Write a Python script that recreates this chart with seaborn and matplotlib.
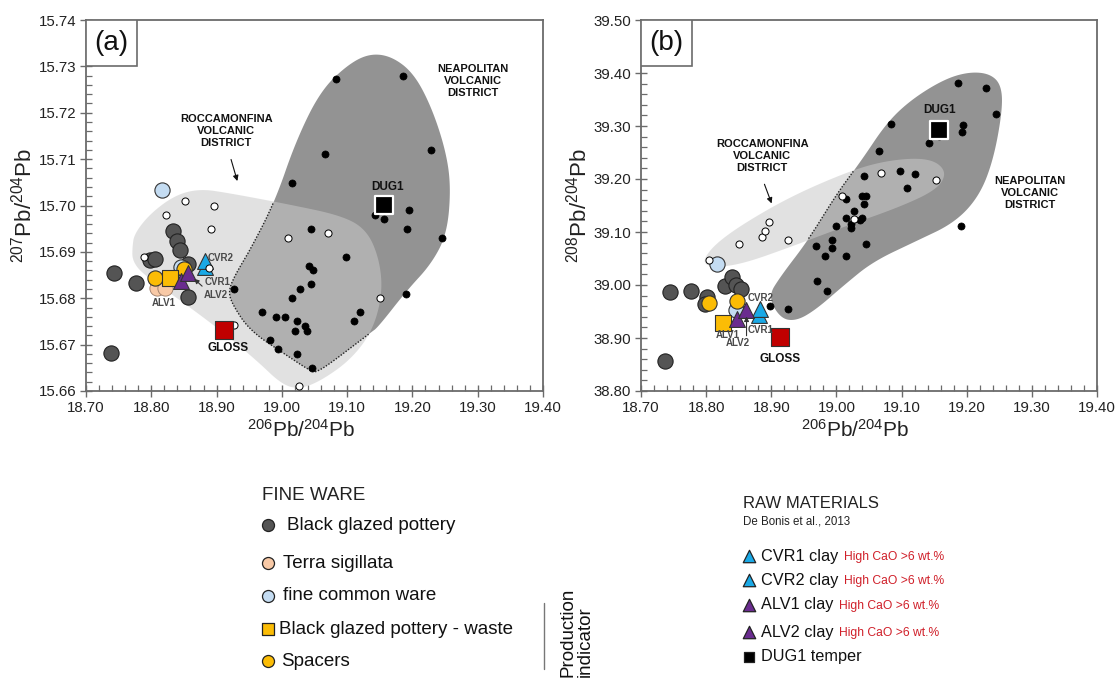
import numpy as np
import pandas as pd
import matplotlib
matplotlib.use("Agg")
import matplotlib.pyplot as plt
import seaborn as sns
from matplotlib.path import Path
from matplotlib.patches import Rectangle, Polygon

sns.set_theme(style="white")
plt.rcParams["font.family"] = ["Liberation Sans", "DejaVu Sans"]
plt.rcParams["mathtext.fontset"] = "custom"
plt.rcParams["mathtext.rm"] = "Liberation Sans"
plt.rcParams["mathtext.it"] = "Liberation Sans:italic"
plt.rcParams["mathtext.bf"] = "Liberation Sans:bold"

# ---------------- DATA : panel (a) 206Pb/204Pb vs 207Pb/204Pb ----------------
neap_a_x = [19.083, 19.185, 19.229, 19.066, 19.016, 19.142, 19.157, 19.195, 19.192, 19.045, 19.245,
            19.098, 19.042, 19.048, 19.028, 19.045, 18.926, 19.016, 19.190, 18.970, 18.991, 19.005,
            19.023, 19.036, 19.039, 19.020, 19.110, 19.120, 18.982, 18.994, 19.023, 19.046]
neap_a_y = [15.7272, 15.728, 15.7119, 15.711, 15.7049, 15.698, 15.697, 15.699, 15.695, 15.695, 15.693,
            15.689, 15.687, 15.686, 15.682, 15.683, 15.682, 15.680, 15.681, 15.677, 15.676, 15.676,
            15.675, 15.674, 15.673, 15.673, 15.675, 15.677, 15.671, 15.669, 15.668, 15.665]
rocc_a_x = [18.852, 18.896, 18.823, 18.891, 19.009, 19.070, 18.789, 19.151, 18.926, 19.026, 18.888]
rocc_a_y = [15.701, 15.700, 15.698, 15.695, 15.693, 15.694, 15.689, 15.680, 15.6743, 15.661, 15.6865]
bgp_a_x = [18.8325, 18.840, 18.8445, 18.798, 18.805, 18.857, 18.7436, 18.776, 18.857, 18.738, 18.848]
bgp_a_y = [15.6944, 15.6924, 15.6903, 15.6883, 15.6885, 15.6874, 15.6854, 15.6832, 15.6803, 15.6683, 15.6865]
ts_a_x = [18.809, 18.821]
ts_a_y = [15.6823, 15.6823]
fcw_a_x = [18.817, 18.846]
fcw_a_y = [15.7034, 15.6867]
spacer_a_x = [18.805, 18.850]
spacer_a_y = [15.6843, 15.6863]
waste_a_x = [18.829]
waste_a_y = [15.6843]
cvr1_a = (18.883, 15.6867)
cvr2_a = (18.883, 15.6881)
alv1_a = (18.846, 15.6838)
alv2_a = (18.857, 15.6854)
gloss_a = (18.9116, 15.6731)
dug1_a = (19.157, 15.7002)

# district outlines (a)
neapreg_a_x = [18.989, 19.022, 19.060, 19.103, 19.136, 19.169, 19.202, 19.229, 19.251, 19.259, 19.253,
               19.229, 19.191, 19.147, 19.136, 19.093, 19.054, 19.044, 19.005, 18.951, 18.924, 18.918,
               18.929, 18.951]
neapreg_a_y = [15.7007, 15.7141, 15.7249, 15.7306, 15.7328, 15.7321, 15.7285, 15.7213, 15.7119, 15.7040,
               15.6939, 15.6874, 15.6816, 15.6737, 15.6726, 15.6679, 15.6640, 15.6643, 15.6679, 15.6730,
               15.6787, 15.6816, 15.6852, 15.6903]
roccreg_a_x = [18.771, 18.774, 18.798, 18.836, 18.874, 18.918, 19.005, 19.093, 19.131, 19.150, 19.154,
               19.139, 19.106, 19.060, 19.027, 19.000, 18.962, 18.907, 18.842, 18.787, 18.771]
roccreg_a_y = [15.6910, 15.6939, 15.6982, 15.7022, 15.7036, 15.7027, 15.7004, 15.6978, 15.6946, 15.6881,
               15.6809, 15.6730, 15.6668, 15.6622, 15.6604, 15.6614, 15.6665, 15.6730, 15.6798, 15.6852,
               15.6881]

# ---------------- DATA : panel (b) 206Pb/204Pb vs 208Pb/204Pb ----------------
neap_b_x = [19.186, 19.230, 19.245, 19.084, 19.195, 19.192, 19.158, 19.142, 19.066, 19.098, 19.120,
            19.109, 19.043, 19.040, 19.046, 19.043, 19.015, 19.027, 19.015, 19.022, 19.023, 18.999,
            19.036, 19.040, 19.046, 18.968, 18.982, 18.993, 18.993, 19.015, 18.970, 18.986, 18.898,
            18.926, 19.191]
neap_b_y = [39.381, 39.371, 39.323, 39.304, 39.302, 39.289, 39.282, 39.267, 39.252, 39.216, 39.210,
            39.183, 39.205, 39.167, 39.167, 39.153, 39.162, 39.139, 39.126, 39.115, 39.107, 39.112,
            39.122, 39.126, 39.077, 39.074, 39.055, 39.085, 39.069, 39.055, 39.007, 38.989, 38.960,
            38.955, 39.112]
rocc_b_x = [18.805, 18.851, 18.885, 18.891, 18.897, 18.925, 19.008, 19.069, 19.153, 19.027]
rocc_b_y = [39.048, 39.077, 39.091, 39.101, 39.118, 39.085, 39.168, 39.211, 39.199, 39.125]
bgp_b_x = [18.744, 18.776, 18.801, 18.799, 18.829, 18.839, 18.846, 18.854, 18.737]
bgp_b_y = [38.987, 38.989, 38.978, 38.964, 38.998, 39.016, 39.000, 38.992, 38.857]
fcw_b_x = [18.817, 18.846]
fcw_b_y = [39.040, 38.953]
spacer_b_x = [18.804, 18.848]
spacer_b_y = [38.966, 38.970]
waste_b_x = [18.826]
waste_b_y = [38.929]
cvr1_b = (18.881, 38.943)
cvr2_b = (18.883, 38.954)
alv1_b = (18.848, 38.935)
alv2_b = (18.861, 38.953)
gloss_b = (18.913, 38.901)
dug1_b = (19.158, 39.293)

neapreg_b_x = [18.895, 18.914, 18.938, 18.968, 19.012, 19.056, 19.121, 19.181, 19.219, 19.241, 19.255,
               19.253, 19.235, 19.203, 19.165, 19.115, 19.077, 19.039, 19.001, 18.957, 18.914]
neapreg_b_y = [38.978, 38.937, 38.932, 38.953, 39.000, 39.044, 39.082, 39.117, 39.167, 39.236, 39.331,
               39.378, 39.399, 39.402, 39.388, 39.350, 39.306, 39.236, 39.173, 39.085, 39.016]
roccreg_b_x = [18.7965, 18.8156, 18.859, 18.930, 19.012, 19.066, 19.121, 19.154, 19.169, 19.154,
               19.099, 19.012, 18.930, 18.859, 18.816, 18.799]
roccreg_b_y = [39.050, 39.079, 39.117, 39.167, 39.211, 39.232, 39.240, 39.233, 39.210, 39.180,
               39.148, 39.110, 39.072, 39.041, 39.033, 39.038]

x_ticks = [18.70, 18.80, 18.90, 19.00, 19.10, 19.20, 19.30, 19.40]
ya_ticks = [15.66, 15.67, 15.68, 15.69, 15.70, 15.71, 15.72, 15.73, 15.74]
yb_ticks = [38.80, 38.90, 39.00, 39.10, 39.20, 39.30, 39.40, 39.50]

# ---------------- STYLE ----------------
C_DARKREG = "#939393"
C_LIGHTREG = "#c9c9c9"
C_BGP = "#545454"
C_TS = "#f8c9a6"
C_FCW = "#c4dcf2"
C_YEL = "#fbbc05"
C_CYAN = "#1aa9e6"
C_PURP = "#6a2c8f"
C_RED = "#c00000"
SPINE = "#6b6b6b"


def chaikin(xs, ys, n=4):
    p = np.column_stack([xs, ys]).astype(float)
    for _ in range(n):
        q = np.roll(p, -1, axis=0)
        a = 0.75 * p + 0.25 * q
        b = 0.25 * p + 0.75 * q
        p = np.empty((2 * len(a), 2))
        p[0::2] = a
        p[1::2] = b
    return p


def scat(ax, xs, ys, color, marker, s, ec="black", lw=0.8, z=3):
    df = pd.DataFrame({"x": np.atleast_1d(xs), "y": np.atleast_1d(ys)})
    sns.scatterplot(data=df, x="x", y="y", ax=ax, color=color, marker=marker, s=s,
                    edgecolor=ec, linewidth=lw, zorder=z, legend=False)


def panel(ax, letter, neap, rocc, neapreg, roccreg, bgp, ts, fcw, spacer, waste,
          cvr1, cvr2, alv1, alv2, gloss, dug1, yticks, yminor, ylabel):
    dark = chaikin(*neapreg)
    light = chaikin(*roccreg)
    ax.add_patch(Polygon(dark, closed=True, facecolor=C_DARKREG, edgecolor="none", zorder=1))
    ax.add_patch(Polygon(light, closed=True, facecolor=C_LIGHTREG, alpha=0.54, edgecolor="none", zorder=1.2))
    # dotted edge of the dark district where it lies below the light one
    inside = Path(light).contains_points(dark)
    dd = dark.copy()
    dd[~inside] = np.nan
    dd = np.vstack([dd, dd[:1]])
    ax.plot(dd[:, 0], dd[:, 1], ls=(0, (1, 1.2)), color="#222222", lw=1.0, zorder=1.5)

    scat(ax, neap[0], neap[1], "black", "o", 26, ec="black", lw=0.5, z=4)
    scat(ax, rocc[0], rocc[1], "white", "o", 26, ec="black", lw=0.7, z=4)
    scat(ax, bgp[0], bgp[1], C_BGP, "o", 120, ec="#222222", lw=0.8, z=3)
    if ts is not None:
        scat(ax, ts[0], ts[1], C_TS, "o", 120, ec="#9a7a66", lw=0.6, z=3.2)
    scat(ax, fcw[0], fcw[1], C_FCW, "o", 120, ec="#333333", lw=0.8, z=3.1)
    scat(ax, spacer[0], spacer[1], C_YEL, "o", 120, ec="#333333", lw=0.8, z=3.4)
    scat(ax, waste[0], waste[1], C_YEL, "s", 130, ec="#333333", lw=0.8, z=3.5)
    scat(ax, cvr1[0], cvr1[1], C_CYAN, "^", 130, ec="#333333", lw=0.8, z=3.6)
    scat(ax, cvr2[0], cvr2[1], C_CYAN, "^", 130, ec="#333333", lw=0.8, z=3.7)
    scat(ax, alv1[0], alv1[1], C_PURP, "^", 130, ec="#333333", lw=0.8, z=3.6)
    scat(ax, alv2[0], alv2[1], C_PURP, "^", 130, ec="#333333", lw=0.8, z=3.7)
    scat(ax, gloss[0], gloss[1], C_RED, "s", 150, ec="#333333", lw=0.8, z=5)
    scat(ax, dug1[0], dug1[1], "black", "s", 150, ec="white", lw=1.6, z=5)

    ax.set_xlim(18.70, 19.40)
    ax.set_ylim(yticks[0], yticks[-1])
    ax.set_xticks(x_ticks)
    ax.set_xticklabels([f"{v:.2f}" for v in x_ticks])
    ax.set_yticks(yticks)
    ax.set_yticklabels([f"{v:.2f}" for v in yticks])
    ax.xaxis.set_minor_locator(matplotlib.ticker.MultipleLocator(0.02))
    ax.yaxis.set_minor_locator(matplotlib.ticker.MultipleLocator(yminor))
    ax.tick_params(which="major", direction="inout", length=8, width=1, color=SPINE,
                   labelsize=10.8, labelcolor="#222222", pad=3, bottom=True, left=True)
    ax.tick_params(which="minor", direction="in", length=4, width=0.9, color=SPINE,
                   bottom=True, left=True)
    for sp in ax.spines.values():
        sp.set_color(SPINE)
        sp.set_linewidth(1.3)
    ax.set_xlabel(r"$^{206}$Pb/$^{204}$Pb", fontsize=15, color="#222222", labelpad=6)
    ax.set_ylabel(ylabel, fontsize=16, color="#222222", labelpad=6)
    ax.grid(False)
    ax.add_patch(Rectangle((0, 0.875), 0.112, 0.125, transform=ax.transAxes, facecolor="white",
                           edgecolor=SPINE, lw=1.2, zorder=6))
    ax.text(0.056, 0.9375, letter, transform=ax.transAxes, ha="center", va="center",
            fontsize=20, color="#111111", zorder=7)


W, H = 1118, 684
fig = plt.figure(figsize=(W / 100, H / 100), dpi=100)
axa = fig.add_axes([86 / W, 1 - 391 / H, 457 / W, 371 / H])
axb = fig.add_axes([641 / W, 1 - 391 / H, 456 / W, 371 / H])

panel(axa, "(a)", (neap_a_x, neap_a_y), (rocc_a_x, rocc_a_y), (neapreg_a_x, neapreg_a_y),
      (roccreg_a_x, roccreg_a_y), (bgp_a_x, bgp_a_y), (ts_a_x, ts_a_y), (fcw_a_x, fcw_a_y),
      (spacer_a_x, spacer_a_y), (waste_a_x, waste_a_y), cvr1_a, cvr2_a, alv1_a, alv2_a,
      gloss_a, dug1_a, ya_ticks, 0.002, r"$^{207}$Pb/$^{204}$Pb")
panel(axb, "(b)", (neap_b_x, neap_b_y), (rocc_b_x, rocc_b_y), (neapreg_b_x, neapreg_b_y),
      (roccreg_b_x, roccreg_b_y), (bgp_b_x, bgp_b_y), None, (fcw_b_x, fcw_b_y),
      (spacer_b_x, spacer_b_y), (waste_b_x, waste_b_y), cvr1_b, cvr2_b, alv1_b, alv2_b,
      gloss_b, dug1_b, yb_ticks, 0.02, r"$^{208}$Pb/$^{204}$Pb")
axa.xaxis.set_label_coords(0.47, -0.075)
axb.xaxis.set_label_coords(0.47, -0.075)
axa.yaxis.set_label_coords(-0.108, 0.5)
axb.yaxis.set_label_coords(-0.108, 0.5)

lab = dict(fontsize=7, fontweight="bold", color="#4a4a4a", zorder=8)
big = dict(fontsize=8.5, fontweight="bold", color="#111111", zorder=8, ha="center")
reg = dict(fontsize=8, fontweight="bold", color="#111111", ha="center", va="center",
           linespacing=1.25, zorder=8)

# panel (a) annotations
axa.text(18.886, 15.6887, "CVR2", ha="left", va="center", **lab)
axa.text(18.881, 15.6834, "CVR1", ha="left", va="center", **lab)
axa.text(18.881, 15.6808, "ALV2", ha="left", va="center", **lab)
axa.text(18.819, 15.6789, "ALV1", ha="center", va="center", **lab)
axa.annotate("", xy=(18.8625, 15.6846), xytext=(18.881, 15.6822),
             arrowprops=dict(arrowstyle="-|>", color="#333333", lw=0.8, mutation_scale=7), zorder=8)
axa.text(18.917, 15.6692, "GLOSS", va="center", **big)
axa.text(19.162, 15.7040, "DUG1", va="center", **big)
axa.text(18.915, 15.7160, "ROCCAMONFINA\nVOLCANIC\nDISTRICT", **reg)
axa.text(19.292, 15.7268, "NEAPOLITAN\nVOLCANIC\nDISTRICT", **reg)
axa.annotate("", xy=(18.933, 15.7047), xytext=(18.921, 15.7105),
             arrowprops=dict(arrowstyle="-|>", color="#111111", lw=0.8, mutation_scale=8), zorder=8)

# panel (b) annotations
axb.text(18.884, 38.976, "CVR2", ha="center", va="center", **lab)
axb.text(18.883, 38.915, "CVR1", ha="center", va="center", **lab)
axb.text(18.833, 38.905, "ALV1", ha="center", va="center", **lab)
axb.text(18.848, 38.890, "ALV2", ha="center", va="center", **lab)
axb.annotate("", xy=(18.862, 38.946), xytext=(18.862, 38.899),
             arrowprops=dict(arrowstyle="-|>", color="#333333", lw=0.8, mutation_scale=7), zorder=8)
axb.text(18.914, 38.861, "GLOSS", va="center", **big)
axb.text(19.158, 39.331, "DUG1", va="center", **big)
axb.text(18.886, 39.243, "ROCCAMONFINA\nVOLCANIC\nDISTRICT", **reg)
axb.text(19.297, 39.173, "NEAPOLITAN\nVOLCANIC\nDISTRICT", **reg)
axb.annotate("", xy=(18.902, 39.149), xytext=(18.888, 39.195),
             arrowprops=dict(arrowstyle="-|>", color="#111111", lw=0.8, mutation_scale=8), zorder=8)

# ---------------- LEGENDS (pixel layout overlay) ----------------
ov = fig.add_axes([0, 0, 1, 1], zorder=10)
ov.set_xlim(0, W)
ov.set_ylim(H, 0)
ov.axis("off")
ov.patch.set_alpha(0)

fine_labels = ["Black glazed pottery", "Terra sigillata", "fine common ware",
               "Black glazed pottery - waste", "Spacers"]
fine_colors = [C_BGP, C_TS, C_FCW, C_YEL, C_YEL]
fine_markers = ["o", "o", "o", "s", "o"]
fine_rows = [525, 563, 596, 629, 661]
fine_textx = [287, 283, 283, 279, 281]

ov.text(262, 495, "FINE WARE", fontsize=13.5, color="#222222", va="center", ha="left")
for lbl, c, m, yy, tx in zip(fine_labels, fine_colors, fine_markers, fine_rows, fine_textx):
    ov.scatter([268], [yy], s=75 if m == "o" else 85, c=c, marker=m, edgecolors="#222222", linewidths=0.9)
    ov.text(tx, yy, lbl, fontsize=13.5, color="#111111", va="center", ha="left")
ov.plot([544, 544], [603, 669], color="#777777", lw=1.0)
ov.text(560, 588, "Production\nindicator", rotation=90, fontsize=13.5, color="#111111",
        ha="left", va="top", linespacing=1.0)

raw_labels = ["CVR1 clay", "CVR2 clay", "ALV1 clay", "ALV2 clay", "DUG1 temper"]
raw_colors = [C_CYAN, C_CYAN, C_PURP, C_PURP, "black"]
raw_markers = ["^", "^", "^", "^", "s"]
raw_rows = [556, 580, 605, 632, 657]
raw_note = ["High CaO >6 wt.%", "High CaO >6 wt.%", "High CaO >6 wt.%", "High CaO >6 wt.%", ""]
raw_notex = [844, 844, 839, 839, 0]

ov.text(743, 503, "RAW MATERIALS", fontsize=12, color="#222222", va="center", ha="left")
ov.text(743, 522, "De Bonis et al., 2013", fontsize=8.3, color="#222222", va="center", ha="left")
for lbl, c, m, yy, nt, nx in zip(raw_labels, raw_colors, raw_markers, raw_rows, raw_note, raw_notex):
    ov.scatter([749], [yy], s=80 if m == "^" else 55, c=c, marker=m, edgecolors="#222222", linewidths=0.9)
    ov.text(761, yy, lbl, fontsize=11.7, color="#111111", va="center", ha="left")
    if nt:
        ov.text(nx, yy + 1, nt, fontsize=8.7, color="#d0202a", va="center", ha="left")

fig.savefig("out.png", dpi=100)
